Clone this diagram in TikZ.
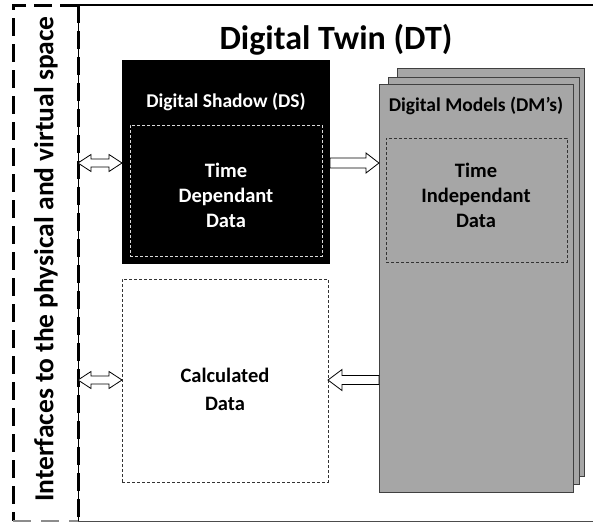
\documentclass[tikz,border=0pt]{standalone}
\usepackage{fontspec}
\setmainfont{Carlito}
\usetikzlibrary{calc}
\definecolor{dmgray}{HTML}{A6A6A6}
\tikzset{
  box/.style={rectangle, inner sep=0pt, outer sep=0pt},
  dmbox/.style={box, draw=black!75, line width=0.8pt, fill=dmgray},
  innerdash/.style={box, draw, dashed, dash pattern=on 3pt off 2pt, line width=0.5pt},
  lbl/.style={font=\bfseries, align=center, inner sep=0pt},
  blk/.style={draw=black, fill=white, line width=0.8pt, line join=miter},
}
\begin{document}
\begin{tikzpicture}[x=1pt,y=-1pt]
\useasboundingbox (0,0) rectangle (593,522);
% main frame
\draw[black!70, line width=0.8pt] (78,521) -- (600,521);
\draw[line width=1pt] (78,521) -- (78,5);
\draw[line width=2pt] (78,5) -- (600,5);
% dashed interface frame
\draw[line width=3pt, dash pattern=on 18pt off 8pt] (78,5) -- (13,5) -- (13,521);
\draw[line width=3pt, dash pattern=on 18pt off 8pt] (78,5) -- (78,521);
\draw[black!45, line width=1.2pt, dash pattern=on 18pt off 10pt] (13,521) -- (78,521);
\node[lbl, rotate=90, font=\bfseries\fontsize{27.5}{30}\selectfont] (iface) at (46,259) {Interfaces to the physical and virtual space};
% title
\node[lbl, font=\bfseries\fontsize{34}{38}\selectfont] (title) at (336,40) {Digital Twin (DT)};
% digital shadow
\node[box, fill=black, minimum width=208pt, minimum height=204pt] (DS) at (226,162) {};
\node[innerdash, draw=white!85!black, minimum width=192pt, minimum height=131pt] (DSin) at (226,190.5) {};
\node[lbl, text=white, font=\bfseries\fontsize{19.5}{22}\selectfont] (DSlbl) at (226,102) {Digital Shadow (DS)};
\node[lbl, text=white, font=\bfseries\fontsize{20.5}{25}\selectfont] (TDD) at (226,195) {Time\\Dependant\\Data};
% calculated data
\node[innerdash, draw=black!80, minimum width=206pt, minimum height=203pt] (CD) at (225,380.5) {};
\node[lbl, font=\bfseries\fontsize{20.5}{28}\selectfont] (CDlbl) at (225,389) {Calculated\\Data};
% digital models stack
\node[dmbox, minimum width=187pt, minimum height=408pt] (DM3) at (490.5,272) {};
\node[dmbox, minimum width=191pt, minimum height=407pt] (DM2) at (483.5,280.5) {};
\node[dmbox, minimum width=194pt, minimum height=408pt] (DM) at (476,288) {};
\node[innerdash, draw=black!80, minimum width=181pt, minimum height=124pt] (DMin) at (476.5,200) {};
\node[lbl, font=\bfseries\fontsize{19.5}{22}\selectfont] (DMlbl) at (476,106) {Digital Models (DM’s)};
\node[lbl, font=\bfseries\fontsize{20.5}{25}\selectfont] (TID) at (476,195) {Time\\Independant\\Data};
% interface points
\coordinate (ifA) at (78,163);
\coordinate (ifB) at (78,380);
% double arrow top
\draw[blk] let \p1=(ifA), \p2=($(DS.west|-ifA)$) in
  (\x1,\y1) -- (\x1+13pt,\y1+8.5pt) -- (\x1+13pt,\y1+4pt) -- (\x2-13pt,\y1+4pt) -- (\x2-13pt,\y1+8.5pt) --
  (\x2,\y1) -- (\x2-13pt,\y1-8.5pt) -- (\x2-13pt,\y1-4pt) -- (\x1+13pt,\y1-4pt) -- (\x1+13pt,\y1-8.5pt) -- cycle;
% double arrow bottom
\draw[blk] let \p1=(ifB), \p2=($(CD.west|-ifB)$) in
  (\x1,\y1) -- (\x1+13pt,\y1+8.5pt) -- (\x1+13pt,\y1+4pt) -- (\x2-13pt,\y1+4pt) -- (\x2-13pt,\y1+8.5pt) --
  (\x2,\y1) -- (\x2-13pt,\y1-8.5pt) -- (\x2-13pt,\y1-4pt) -- (\x1+13pt,\y1-4pt) -- (\x1+13pt,\y1-8.5pt) -- cycle;
% DS -> DM arrow
\draw[blk] let \p1=($(DS.east|-ifA)$), \p2=($(DM.west|-ifA)$) in
  (\x1,\y1+5pt) -- (\x2-13pt,\y1+5pt) -- (\x2-13pt,\y1+10pt) -- (\x2,\y1) --
  (\x2-13pt,\y1-10pt) -- (\x2-13pt,\y1-5pt) -- (\x1,\y1-5pt) -- cycle;
% DM -> CD arrow
\draw[blk] let \p1=($(DM.west|-ifB)$), \p2=($(CD.east|-ifB)$) in
  (\x1,\y1+4.5pt) -- (\x2+14pt,\y1+4.5pt) -- (\x2+14pt,\y1+10.5pt) -- (\x2,\y1) --
  (\x2+14pt,\y1-10.5pt) -- (\x2+14pt,\y1-4.5pt) -- (\x1,\y1-4.5pt) -- cycle;
\end{tikzpicture}
\end{document}
